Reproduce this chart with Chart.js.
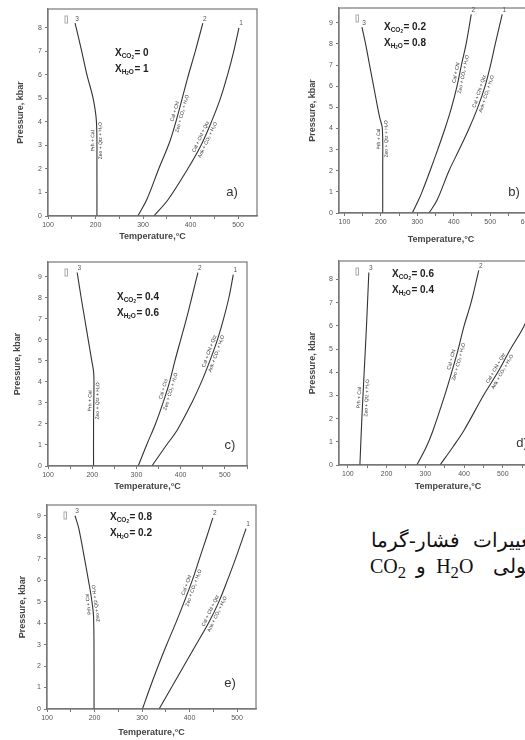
<!DOCTYPE html>
<html lang="fa">
<head>
<meta charset="utf-8">
<title>Diagram P-T</title>
<script src="https://cdn.jsdelivr.net/npm/chart.js@4.4.1/dist/chart.umd.min.js"></script>
<style>
  html, body { margin: 0; padding: 0; background: #fff; }
  body { width: 525px; height: 740px; position: relative; overflow: hidden; }
  canvas { position: absolute; }
  .caption {
    position: absolute;
    white-space: nowrap;
    direction: rtl;
    font-family: "Liberation Serif", "DejaVu Serif", serif;
    font-size: 20px;
    line-height: 24px;
    color: #111;
  }
</style>
</head>
<body>
<canvas id="chartA" width="262" height="246" style="left:0;top:0"></canvas>
<canvas id="chartB" width="252" height="245" style="left:291px;top:0"></canvas>
<canvas id="chartC" width="252" height="246" style="left:0;top:250px"></canvas>
<canvas id="chartD" width="266" height="245" style="left:291px;top:250px"></canvas>
<canvas id="chartE" width="261" height="245" style="left:0;top:495px"></canvas>

<div class="caption" style="left:371px;top:528px;word-spacing:8px">تغییرات فشار-گرما</div>
<div class="caption" style="left:370px;top:554px;word-spacing:5px">مولی&emsp;H<sub>2</sub>O و CO<sub>2</sub></div>

<script>
// tick labels
const tempTicks = [100, 200, 300, 400, 500, 600];

// reaction labels (left, middle, right curve)
const reactionLeft = ['Prh + Cal', 'Zeo + Qtz + H₂O'];
const reactionMid = ['Cal + Chl', 'Zeo + CO₂ + H₂O'];
const reactionRight = ['Cal + Chl + Qtz', 'Ank + CO₂ + H₂O'];

// a) XCO2 = 0
const aP3 = [0, 2, 4, 5, 6, 7, 8.2];
const aT3 = [203, 203, 202, 195, 182, 171, 157];
const aP2 = [0, 0.7, 2, 3.2, 4.5, 5.8, 7, 8.2];
const aT2 = [289, 308, 333, 357, 376, 393, 410, 426];
const aP1 = [0, 0.7, 2, 3, 4, 5, 6, 7, 8];
const aT1 = [323, 353, 394, 422, 444, 463, 478, 491, 502];

// b) XCO2 = 0.2
const bP3 = [0, 2, 4, 4.5, 5, 6, 7, 8, 8.8];
const bT3 = [205, 205, 204, 197, 191, 180, 169, 158, 148];
const bP2 = [0, 0.6, 1, 2, 3, 4, 5, 6, 7, 8, 9.4];
const bT2 = [286, 303, 313, 335, 356, 376, 394, 409, 421, 434, 448];
const bP1 = [0, 0.6, 2, 3, 4, 5, 6, 7, 8, 9.4];
const bT1 = [332, 354, 387, 415, 442, 466, 486, 501, 514, 533];

// c) XCO2 = 0.4
const cP3 = [0, 2, 4, 4.5, 5, 6, 7, 8, 9.2];
const cT3 = [203, 203, 204, 203, 199, 191, 183, 175, 166];
const cP2 = [0, 1, 2, 3, 4, 5, 6, 7, 8, 9.2];
const cT2 = [304, 323, 343, 360, 375, 387, 400, 413, 425, 439];
const cP1 = [0, 1, 1.7, 3, 4, 5, 6, 7, 8, 9.1];
const cT1 = [335, 368, 392, 425, 447, 466, 483, 497, 509, 519];

// d) XCO2 = 0.6
const dP3 = [0, 2, 4, 6, 8.3];
const dT3 = [131, 136, 142, 148, 154];
const dP2 = [0, 0.8, 1.5, 3, 4, 5, 6, 7, 8.4];
const dT2 = [278, 303, 320, 350, 368, 385, 400, 418, 438];
const dP1 = [0, 0.8, 1.5, 3, 4, 5, 6, 7, 8.4];
const dT1 = [338, 372, 400, 450, 487, 520, 555, 580, 605];

// e) XCO2 = 0.8
const eP3 = [0, 2, 4.3, 5.1, 5.9, 7, 8.4, 9];
const eT3 = [199, 199, 198, 194, 188, 179, 167, 159];
const eP2 = [0, 1, 2, 3, 4, 5, 6, 7, 8, 8.9];
const eT2 = [301, 317, 334, 352, 371, 389, 406, 421, 436, 449];
const eP1 = [0, 1, 2, 3, 4, 5, 6, 7, 8.4];
const eT1 = [336, 362, 388, 414, 440, 462, 480, 497, 519];

const panels = [
    { id: 'chartA', xMin: 100, xMax: 540, yMax: 8.8, yW: 48, xH: 30, padTop: 9, padRight: 5,
      yTitlePad: 15, xTitlePad: 4, curves: [[aT3, aP3], [aT2, aP2], [aT1, aP1]], labelP: [3.2, 4.4, 3.3],
      xco2: '0', xh2o: '1', fracX: 115, fracY: 53, letter: 'a)', letterX: 232, letterY: 192 },
    { id: 'chartB', xMin: 85, xMax: 645, yMax: 9.7, yW: 48, xH: 32, padTop: 8, padRight: 0,
      yTitlePad: 16, xTitlePad: 0, curves: [[bT3, bP3], [bT2, bP2], [bT1, bP1]], labelP: [3.5, 6.6, 5.7],
      xco2: '0.2', xh2o: '0.8', fracX: 93, fracY: 27, letter: 'b)', letterX: 223, letterY: 192 },
    { id: 'chartC', xMin: 100, xMax: 550, yMax: 9.7, yW: 48, xH: 30, padTop: 12, padRight: 5,
      yTitlePad: 12, xTitlePad: 4, curves: [[cT3, cP3], [cT2, cP2], [cT1, cP1]], labelP: [3.1, 3.6, 5.4],
      xco2: '0.4', xh2o: '0.6', fracX: 117, fracY: 47, letter: 'c)', letterX: 230, letterY: 195 },
    { id: 'chartD', xMin: 77, xMax: 640, yMax: 8.8, yW: 48, xH: 30, padTop: 11, padRight: 0,
      yTitlePad: 16, xTitlePad: 3, curves: [[dT3, dP3], [dT2, dP2], [dT1, dP1]], labelP: [2.9, 4.5, 4.1],
      xco2: '0.6', xh2o: '0.4', fracX: 101, fracY: 24, letter: 'd)', letterX: 231, letterY: 193 },
    { id: 'chartE', xMin: 100, xMax: 540, yMax: 9.5, yW: 47, xH: 31, padTop: 10, padRight: 5,
      yTitlePad: 17, xTitlePad: 2, curves: [[eT3, eP3], [eT2, eP2], [eT1, eP1]], labelP: [4.9, 5.7, 4.5],
      xco2: '0.8', xh2o: '0.2', fracX: 110, fracY: 22, letter: 'e)', letterX: 230, letterY: 188 }
];

const FONT = '"Liberation Sans", Arial, sans-serif';
const curveNames = ['3', '2', '1'];
const reactions = [reactionLeft, reactionMid, reactionRight];

document.addEventListener('DOMContentLoaded', function() {
    panels.forEach(buildPanel);
});

/**
 * linear lookup of T on a curve at pressure p (only for placing labels)
 */
function tempAt(p, T, P) {
    if (p <= P[0]) return T[0];
    for (let i = 1; i < P.length; i++) {
        if (p <= P[i]) {
            const f = (p - P[i - 1]) / (P[i] - P[i - 1]);
            return T[i - 1] + f * (T[i] - T[i - 1]);
        }
    }
    return T[T.length - 1];
}

/**
 * X with subscript, e.g. X_CO2 = 0.2
 */
function drawFraction(ctx, x, y, parts, value) {
    ctx.fillStyle = '#222';
    ctx.textBaseline = 'middle';
    ctx.textAlign = 'left';
    ctx.font = '600 10px ' + FONT;
    ctx.fillText('X', x, y);
    let cx = x + ctx.measureText('X').width;
    parts.forEach(([txt, lvl]) => {
        ctx.font = (lvl ? '600 4.5px ' : '600 6.5px ') + FONT;
        ctx.fillText(txt, cx, y + (lvl ? 5 : 3.5));
        cx += ctx.measureText(txt).width;
    });
    ctx.font = '600 10px ' + FONT;
    ctx.fillText('= ' + value, cx + 0.5, y);
}

function drawReaction(chart, T, P, atP, lines) {
    const ctx = chart.ctx;
    const xs = chart.scales.x, ys = chart.scales.y;
    const p0 = Math.max(atP - 0.5, P[0]);
    const p1 = Math.min(atP + 0.5, P[P.length - 1]);
    const x0 = xs.getPixelForValue(tempAt(p0, T, P)), y0 = ys.getPixelForValue(p0);
    const x1 = xs.getPixelForValue(tempAt(p1, T, P)), y1 = ys.getPixelForValue(p1);
    const cx = xs.getPixelForValue(tempAt(atP, T, P)), cy = ys.getPixelForValue(atP);
    ctx.save();
    ctx.translate(cx, cy);
    ctx.rotate(Math.atan2(y1 - y0, x1 - x0));
    ctx.font = '5px ' + FONT;
    ctx.fillStyle = '#333';
    ctx.textAlign = 'center';
    ctx.textBaseline = 'bottom';
    ctx.fillText(lines[0], 0, -1.2);
    ctx.textBaseline = 'top';
    ctx.fillText(lines[1], 0, 1.4);
    ctx.restore();
}

function drawNotes(chart, cfg) {
    const ctx = chart.ctx;
    const area = chart.chartArea;
    const xs = chart.scales.x, ys = chart.scales.y;
    ctx.save();

    // frame
    ctx.strokeStyle = '#777';
    ctx.lineWidth = 1.2;
    ctx.strokeRect(area.left, area.top, area.right - area.left, area.bottom - area.top);

    // little marker top-left
    ctx.strokeStyle = '#aaa';
    ctx.lineWidth = 1;
    ctx.strokeRect(area.left + 17, area.top + 7, 2.5, 7);

    // curve numbers
    ctx.fillStyle = '#555';
    ctx.font = '6.5px ' + FONT;
    ctx.textAlign = 'center';
    ctx.textBaseline = 'bottom';
    cfg.curves.forEach(([T, P], i) => {
        const x = xs.getPixelForValue(T[T.length - 1]);
        const y = ys.getPixelForValue(P[P.length - 1]);
        ctx.fillText(curveNames[i], x + 2, y - 1);
    });

    // reaction labels
    cfg.curves.forEach(([T, P], i) => drawReaction(chart, T, P, cfg.labelP[i], reactions[i]));

    // composition
    drawFraction(ctx, cfg.fracX, cfg.fracY, [['CO', 0], ['2', 1]], cfg.xco2);
    drawFraction(ctx, cfg.fracX, cfg.fracY + 16, [['H', 0], ['2', 1], ['O', 0]], cfg.xh2o);

    // panel letter
    ctx.fillStyle = '#333';
    ctx.font = '13px ' + FONT;
    ctx.textAlign = 'center';
    ctx.textBaseline = 'middle';
    ctx.fillText(cfg.letter, cfg.letterX, cfg.letterY);
    ctx.restore();
}

function buildPanel(cfg) {
    const canvas = document.getElementById(cfg.id);
    if (!canvas) return;
    const ctx = canvas.getContext('2d');

    new Chart(ctx, {
        type: 'scatter',
        data: {
            datasets: cfg.curves.map(([T, P]) => ({
                data: T.map((t, i) => ({ x: t, y: P[i] })),
                showLine: true,
                borderColor: '#333',
                borderWidth: 1.1,
                pointRadius: 0,
                tension: 0.35,
                fill: false
            }))
        },
        options: {
            responsive: false,
            animation: false,
            layout: { padding: { top: cfg.padTop, right: cfg.padRight, left: 0, bottom: 0 } },
            plugins: {
                legend: { display: false },
                tooltip: { enabled: false }
            },
            scales: {
                x: {
                    type: 'linear',
                    min: cfg.xMin,
                    max: cfg.xMax,
                    afterFit: s => { s.height = cfg.xH; },
                    grid: { drawOnChartArea: false, tickLength: 3, color: '#777' },
                    border: { color: '#777', width: 1.2 },
                    ticks: {
                        stepSize: 50,
                        includeBounds: false,
                        autoSkip: false,
                        maxRotation: 0,
                        padding: 2,
                        color: '#555',
                        font: { size: 7, family: FONT },
                        callback: v => tempTicks.includes(v) ? String(v) : ''
                    },
                    title: {
                        display: true,
                        text: 'Temperature,°C',
                        color: '#444',
                        font: { size: 9, weight: 'bold', family: FONT },
                        padding: { top: 0, bottom: cfg.xTitlePad }
                    }
                },
                y: {
                    min: 0,
                    max: cfg.yMax,
                    afterFit: s => { s.width = cfg.yW; },
                    grid: { drawOnChartArea: false, tickLength: 3, color: '#777' },
                    border: { color: '#777', width: 1.2 },
                    ticks: {
                        stepSize: 1,
                        includeBounds: false,
                        padding: 3,
                        color: '#555',
                        font: { size: 7, family: FONT }
                    },
                    title: {
                        display: true,
                        text: 'Pressure, kbar',
                        color: '#444',
                        font: { size: 9, weight: 'bold', family: FONT },
                        padding: { top: cfg.yTitlePad, bottom: 0 }
                    }
                }
            }
        },
        plugins: [{ id: 'phaseNotes', afterDraw: chart => drawNotes(chart, cfg) }]
    });
}
</script>
</body>
</html>
